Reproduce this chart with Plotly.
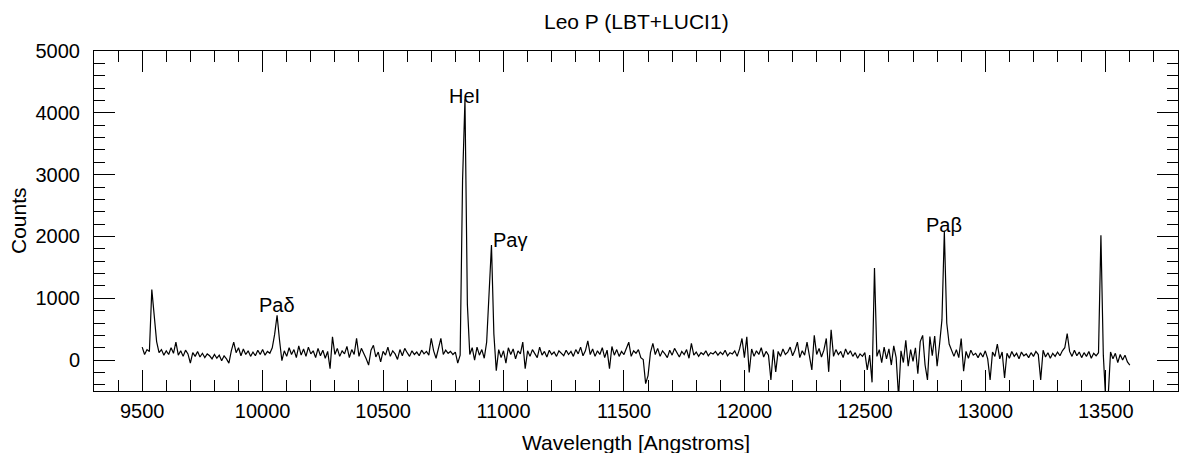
import plotly.graph_objects as go

# ---- data ----
wave_start = 9500      # Angstrom, first sample
wave_step = 10         # Angstrom between samples

counts = [
    # 9500-9690
    210, 90, 170, 140, 1140, 700, 300, 120, 170, 80, 150, 90, 200, 110, 290, 80, 150, 60, 160, 100,
    # 9700-9890
    -50, 120, 60, 140, 50, 110, 40, 100, 70, 20, 90, 30, 80, -10, 70, 20, -50, 150, 290, 120,
    # 9900-10090
    200, 70, 180, 90, 150, 60, 130, 70, 160, 90, 170, 80, 140, 110, 200, 420, 725, 330, -10, 150,
    # 10100-10290
    60, 200, 90, 170, 40, 230, 80, 180, 60, 210, 100, 150, 40, 190, 70, 160, 30, 140, -140, 375,
    # 10300-10490
    90, 190, 60, 150, 100, 220, 40, 170, 90, 350, 60, 190, 110, 20, -80, 160, 240, 50, 130, -30,
    # 10500-10690
    140, 80, 210, 60, 150, 100, 10, 170, 70, 190, 120, 60, 150, 90, 130, 70, 160, 100, 140, 80,
    # 10700-10890
    350, 150, 30, 180, 350, 90, 160, 110, 140, 90, 130, -50, 80, 2900, 4220, 900, 90, 200, 0, 210,
    # 10900-11090
    80, 170, 30, 290, 1200, 1860, 420, -170, 170, 40, 150, -50, 200, 90, 180, 20, 150, 100, 290, -140,
    # 11100-11290
    150, 60, 170, 100, 40, 210, 80, 140, 50, 160, 90, 130, 60, 150, 110, 70, 160, 90, 140, 60,
    # 11300-11490
    170, 100, 210, 70, 150, 310, 90, 180, 60, 150, 90, 200, 40, 160, -140, 220, 80, 170, 60, 140,
    # 11500-11690
    90, 180, 290, 60, 150, 110, 170, 40, 10, -380, -250, 120, 270, 90, 190, 60, 150, 100, 40, 160,
    # 11700-11890
    80, 190, 110, 50, 140, 90, 170, 30, 270, 80, 130, 60, 120, 90, 150, 70, 120, 100, 140, 80,
    # 11900-12090
    130, 90, 160, 70, 120, 100, 150, 60, 180, 350, 40, 375, -200, 180, 60, 150, 90, 200, 50, 140,
    # 12100-12290
    80, -320, 170, -190, 140, 60, 180, 90, 130, 210, 70, 160, 290, 40, 150, 80, 290, 60, -160, 400,
    # 12300-12490
    90, 190, 50, 160, 350, -190, 490, 60, 170, 90, 140, 40, 180, 90, 150, 60, 120, 30, 100, 60,
    # 12500-12690
    120, -160, 80, -360, 1490, 60, 170, -40, 210, 20, 180, -80, 230, 40, -600, 150, -40, 320, -100, 170,
    # 12700-12890
    -20, 200, -220, 300, 400, -80, -320, 380, 70, 390, -100, 250, 650, 2080, 600, 260, 150, 60, 170, 40,
    # 12900-13090
    350, -180, 140, 30, 160, 80, 110, 40, 120, 50, 150, 20, -320, 130, 60, 260, 20, 130, -290, 110,
    # 13100-13290
    30, 140, 60, 110, 20, 130, 70, 100, 40, 120, 60, 140, 90, -320, 160, 50, 120, 30, 110, 60,
    # 13300-13490
    130, 70, 150, 200, 430, 140, 60, 160, 70, 130, 40, 120, 60, 140, 30, 110, 70, 120, 2020, 80,
    # 13500-13600
    -650, -600, 130, 20, 110, -40, 90, 0, 80, -30, -80,
]
wavelength = [wave_start + i * wave_step for i in range(len(counts))]

line_names = ["Pa\u03b4", "HeI", "Pa\u03b3", "Pa\u03b2"]
line_wave = [10059, 10838, 10946, 12828]
line_label_y = [890, 4270, 1940, 2180]
line_label_anchor = ["center", "center", "left", "center"]

x_range = [9300, 13800]
y_range = [-500, 5000]
x_tick_values = [9500, 10000, 10500, 11000, 11500, 12000, 12500, 13000, 13500]
y_tick_values = [0, 1000, 2000, 3000, 4000, 5000]

title_text = "Leo P (LBT+LUCI1)"
x_title = "Wavelength [Angstroms]"
y_title = "Counts"

FONT = "Liberation Sans, Arial, Helvetica, sans-serif"

fig = go.Figure()
fig.add_trace(go.Scatter(
    x=wavelength, y=counts, mode="lines",
    line=dict(color="black", width=1.2),
    hoverinfo="skip", showlegend=False,
))

for name, wl, ly, anc in zip(line_names, line_wave, line_label_y, line_label_anchor):
    fig.add_annotation(x=wl, y=ly, text=name, showarrow=False,
                       xanchor=anc, yanchor="middle",
                       font=dict(family=FONT, size=20, color="black"))

# titles
fig.add_annotation(x=0.5, y=1, xref="paper", yref="paper", text=title_text,
                   showarrow=False, xanchor="center", yanchor="middle", yshift=30,
                   font=dict(family=FONT, size=21, color="black"))
fig.add_annotation(x=0.5, y=0, xref="paper", yref="paper", text=x_title,
                   showarrow=False, xanchor="center", yanchor="middle", yshift=-51,
                   font=dict(family=FONT, size=21, color="black"))
fig.add_annotation(x=0, y=0.5, xref="paper", yref="paper", text=y_title,
                   showarrow=False, xanchor="center", yanchor="middle", xshift=-76,
                   textangle=-90,
                   font=dict(family=FONT, size=21, color="black"))

axis_common = dict(
    ticks="inside", ticklen=21, tickwidth=1, tickcolor="black",
    showline=True, linecolor="black", linewidth=1, mirror="allticks",
    showgrid=False, zeroline=False,
    tickfont=dict(family=FONT, size=20, color="black"),
)

fig.update_xaxes(range=x_range, tickmode="array", tickvals=x_tick_values,
                 ticktext=[str(v) for v in x_tick_values], ticklabelstandoff=2,
                 minor=dict(ticks="inside", ticklen=11, tickwidth=1, tickcolor="black",
                            tick0=9500, dtick=100, showgrid=False),
                 **axis_common)
fig.update_yaxes(range=y_range, tickmode="array", tickvals=y_tick_values,
                 ticktext=[str(v) for v in y_tick_values], ticklabelstandoff=9,
                 minor=dict(ticks="inside", ticklen=11, tickwidth=1, tickcolor="black",
                            tick0=0, dtick=200, showgrid=False),
                 **axis_common)

fig.update_layout(
    width=1179, height=453,
    margin=dict(l=94, r=1, t=51, b=62, pad=0),
    paper_bgcolor="white", plot_bgcolor="white",
    font=dict(family=FONT, size=20, color="black"),
    showlegend=False,
)

fig.write_html("out.html", config={"displayModeBar": False},
               post_script="document.body.style.margin='0';document.body.style.overflow='hidden';")
